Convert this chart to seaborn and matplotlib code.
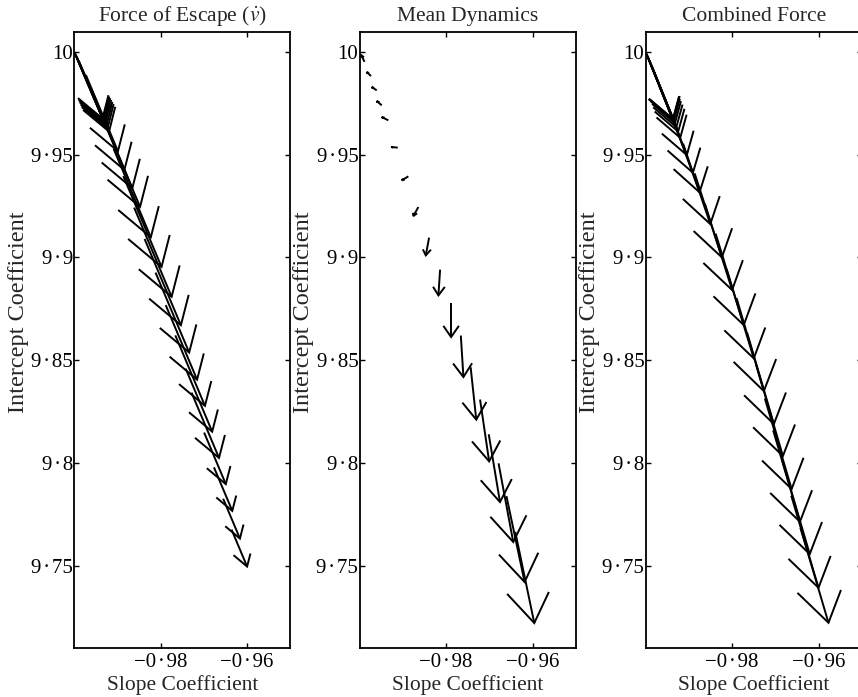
import numpy as np
import pandas as pd
import matplotlib
matplotlib.use("Agg")
import matplotlib.pyplot as plt
import seaborn as sns

# ---------------- data ----------------
# Arrow tails (slope, intercept) and arrow components (d slope, d intercept)
esc_slope = [-1.0000, -0.99988, -0.99975, -0.99958, -0.99940, -0.99919, -0.99892,
             -0.99732, -0.99619, -0.99469, -0.99338, -0.99091, -0.98865, -0.98615,
             -0.98373, -0.98119, -0.97884, -0.97662, -0.97422, -0.97286, -0.96995,
             -0.96767, -0.96554, -0.96360]
esc_icpt = [10.0000, 9.99951, 9.99893, 9.99825, 9.99747, 9.99660, 9.99548,
            9.98881, 9.98152, 9.97432, 9.96761, 9.95292, 9.93959, 9.92427,
            9.90900, 9.89261, 9.87680, 9.86206, 9.84587, 9.83419, 9.81474,
            9.79781, 9.78254, 9.76751]
esc_du = [0.00653, 0.00660, 0.00667, 0.00674, 0.00681, 0.00688, 0.00697,
          0.00742, 0.00778, 0.00812, 0.00860, 0.00862, 0.00884, 0.00868,
          0.00840, 0.00778, 0.00726, 0.00686, 0.00614, 0.00636, 0.00502,
          0.00424, 0.00388, 0.00360]
esc_dv = [-0.03239, -0.03268, -0.03298, -0.03327, -0.03356, -0.03385, -0.03419,
          -0.0371, -0.0389, -0.0406, -0.0430, -0.0431, -0.0442, -0.0434,
          -0.0420, -0.0389, -0.0363, -0.0343, -0.0307, -0.0318, -0.0251,
          -0.0212, -0.0194, -0.0180]

mean_slope = [-0.99889, -0.99738, -0.99606, -0.99490, -0.99337, -0.99119, -0.98874,
              -0.98642, -0.98394, -0.98139, -0.97884, -0.97659, -0.97432, -0.97214,
              -0.97013, -0.96786, -0.96603, -0.96399]
mean_icpt = [9.99523, 9.98832, 9.98135, 9.97405, 9.96675, 9.95346, 9.93948,
             9.92454, 9.90964, 9.89406, 9.87780, 9.86197, 9.84654, 9.83082,
             9.81392, 9.79976, 9.78379, 9.76641]
mean_du = [-0.0007, -0.0010, -0.00116, -0.00116, -0.00153, -0.00155, -0.00153,
           -0.00116, -0.00076, -0.00039, 0.0, 0.0006, 0.0013, 0.0021,
           0.0026, 0.0034, 0.0042, 0.0044]
mean_dv = [0.00316, 0.00195, 0.00161, 0.00209, 0.00161, 0.00029, -0.00195,
           -0.00438, -0.00862, -0.01251, -0.01655, -0.0202, -0.0255, -0.0301,
           -0.0330, -0.0383, -0.0418, -0.0444]

comb_slope = [-1.0, -0.99988, -0.99974, -0.99958, -0.99940, -0.99916, -0.99888,
              -0.99853, -0.99809, -0.99688, -0.99537, -0.99374, -0.99135, -0.98867,
              -0.98630, -0.98381, -0.98128, -0.97895, -0.97653, -0.97444, -0.97242,
              -0.97049, -0.96833, -0.96630, -0.96419]
comb_icpt = [10.0, 9.99942, 9.99873, 9.99796, 9.99708, 9.99596, 9.99464,
             9.99294, 9.99026, 9.98364, 9.97614, 9.96801, 9.95545, 9.94094,
             9.92614, 9.91159, 9.89435, 9.88014, 9.86339, 9.84781, 9.83135,
             9.81582, 9.80078, 9.78398, 9.76835]
comb_du = [0.00635, 0.00619, 0.00605, 0.00598, 0.00593, 0.00593, 0.00598,
           0.00605, 0.00608, 0.0064, 0.0063, 0.0062, 0.0063, 0.0063,
           0.0063, 0.0065, 0.0063, 0.0063, 0.0062, 0.0062, 0.0062,
           0.0062, 0.0063, 0.0063, 0.0065]
comb_dv = [-0.03311, -0.03213, -0.03140, -0.03092, -0.03067, -0.03067, -0.03116,
           -0.03165, -0.0320, -0.0338, -0.0349, -0.0363, -0.0392, -0.0409,
           -0.0420, -0.0445, -0.0435, -0.0452, -0.0445, -0.0445, -0.0441,
           -0.0445, -0.0452, -0.0448, -0.0462]

titles = ["Force of Escape ($\\dot{v}$)", "Mean Dynamics", "Combined Force"]
x_label = "Slope Coefficient"
y_label = "Intercept Coefficient"
x_ticks = [-0.98, -0.96]
x_tick_labels = ["\u22120\u200a\u00b7\u200a98", "\u22120\u200a\u00b7\u200a96"]
y_ticks = [9.75, 9.80, 9.85, 9.90, 9.95, 10.0]
y_tick_labels = ["9\u200a\u00b7\u200a75", "9\u200a\u00b7\u200a8", "9\u200a\u00b7\u200a85",
                 "9\u200a\u00b7\u200a9", "9\u200a\u00b7\u200a95", "10"]

panels = [
    (esc_slope, esc_icpt, esc_du, esc_dv),
    (mean_slope, mean_icpt, mean_du, mean_dv),
    (comb_slope, comb_icpt, comb_du, comb_dv),
]

# ---------------- style ----------------
sns.set_style("ticks")
plt.rcParams["font.family"] = ["Liberation Serif", "DejaVu Serif"]
plt.rcParams["mathtext.fontset"] = "stix"


def arrow_frame(xs, ys, us, vs, alpha=0.33, beta=0.33):
    """Quiver-style arrows (shaft + open head) as polyline segments."""
    rows = []
    for i, (x, y, u, v) in enumerate(zip(xs, ys, us, vs)):
        hx, hy = x + u, y + v
        lx, ly = hx - alpha * (u - beta * v), hy - alpha * (v + beta * u)
        rx, ry = hx - alpha * (u + beta * v), hy - alpha * (v - beta * u)
        rows += [(2 * i, x, y), (2 * i, hx, hy)]
        rows += [(2 * i + 1, lx, ly), (2 * i + 1, hx, hy), (2 * i + 1, rx, ry)]
    return pd.DataFrame(rows, columns=["seg", "slope", "intercept"])


W, H = 858, 697
fig = plt.figure(figsize=(W / 100, H / 100), dpi=100)
lefts = [74.3, 359.7, 645.7]
ax_w, ax_h, ax_bottom = 216.0, 616.2, 49.3

for i, (xs, ys, us, vs) in enumerate(panels):
    ax = fig.add_axes([lefts[i] / W, ax_bottom / H, ax_w / W, ax_h / H])
    df = arrow_frame(xs, ys, us, vs)
    sns.lineplot(data=df, x="slope", y="intercept", units="seg", estimator=None,
                 sort=False, color="black", linewidth=1.4, ax=ax, legend=False,
                 solid_joinstyle="miter", solid_capstyle="butt")
    ax.set_xlim(-1.0, -0.95)
    ax.set_ylim(9.71, 10.01)
    ax.set_xticks(x_ticks)
    ax.set_xticklabels(x_tick_labels)
    ax.set_yticks(y_ticks)
    ax.set_yticklabels(y_tick_labels)
    ax.tick_params(axis="both", direction="in", length=3.8, width=1.0,
                   top=True, right=True, labelsize=15, colors="black")
    ax.tick_params(axis="x", pad=3.5)
    ax.tick_params(axis="y", pad=1.0)
    for s in ax.spines.values():
        s.set_linewidth(1.3)
        s.set_color("black")
    ax.set_title(titles[i], fontsize=15.5, pad=7.5)
    ax.set_xlabel(x_label, fontsize=15.5)
    ax.set_ylabel(y_label, fontsize=17.5)
    ax.xaxis.set_label_coords(0.5, -0.045)
    ax.yaxis.set_label_coords(-0.21, 0.545)

fig.savefig("out.png", dpi=100)
